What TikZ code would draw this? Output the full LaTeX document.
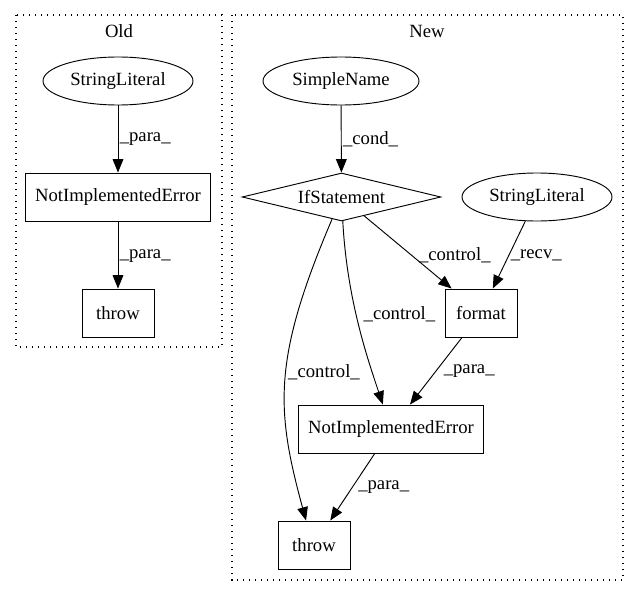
\documentclass[tikz,border=0pt]{standalone}
\usepackage{fontspec}
\setmainfont{Liberation Serif}
\usepackage{tikz}
\usetikzlibrary{shapes.geometric,arrows.meta}

\begin{document}
\begin{tikzpicture}[
  x=0.75pt, y=-0.75pt, %pixel grid of the graph
  every node/.style={font=\fontsize{14}{16}\selectfont},
  cluster/.style={draw, line width=0.8pt, dash pattern=on 0.9pt off 3.6pt},
  ellnode/.style={draw, ellipse, line width=0.7pt, inner sep=0pt, minimum height=36pt},
  boxnode/.style={draw, rectangle, line width=0.7pt, inner sep=0pt, minimum height=36pt},
  condnode/.style={draw, diamond, shape aspect=4, line width=0.7pt, inner sep=0pt, minimum width=149pt, minimum height=36pt},
  flow/.style={-{Triangle[length=10pt,width=8pt]}, line width=0.7pt},
  flowlabel/.style={anchor=west, inner sep=1pt}]

\useasboundingbox (0,0) rectangle (639,596);

% clusters
\draw[cluster] (16,15) rectangle (222,347);
\node (oldtitle) at (119,31) {Old};
\draw[cluster] (232,15) rectangle (623,580);
\node (newtitle) at (427,31) {New};

% old
\node[ellnode, minimum width=112.5pt] (oldlit) at (118,81) {StringLiteral};
\node[boxnode, minimum width=139pt] (olderr) at (118,197) {NotImplementedError};
\node[boxnode, minimum width=54pt] (oldthrow) at (118,313) {throw};

% new
\node[ellnode, minimum width=117pt] (simple) at (341,81) {SimpleName};
\node[condnode] (ifstmt) at (341.5,197) {IfStatement};
\node[ellnode, minimum width=112.5pt] (newlit) at (537,197) {StringLiteral};
\node[boxnode, minimum width=54pt] (format) at (481,313) {format};
\node[boxnode, minimum width=139pt] (newerr) at (391,429) {NotImplementedError};
\node[boxnode, minimum width=54pt] (newthrow) at (314,545) {throw};

\draw[flow] (oldlit) -- node[flowlabel] {\_para\_} (olderr);
\draw[flow] (olderr) -- node[flowlabel, yshift=-1pt] {\_para\_} (oldthrow);

\draw[flow] (simple) -- node[flowlabel] {\_cond\_} (ifstmt);
\draw[flow] (ifstmt) -- node[flowlabel, xshift=7pt, yshift=-2pt] {\_control\_} (format);
\draw[flow] (newlit) -- node[flowlabel] {\_recv\_} (format);
\draw[flow] (ifstmt) .. controls (347,300) and (368,360) .. node[flowlabel, pos=0.45, xshift=4pt, yshift=2pt] {\_control\_} (newerr);
\draw[flow] (ifstmt) .. controls (272,360) and (276,410) .. node[flowlabel, pos=0.45, yshift=-3pt] {\_control\_} (newthrow.108);
\draw[flow] (format) -- node[flowlabel, xshift=4.5pt] {\_para\_} (newerr);
\draw[flow] (newerr) -- node[flowlabel, xshift=3pt] {\_para\_} (newthrow);
\end{tikzpicture}
\end{document}
